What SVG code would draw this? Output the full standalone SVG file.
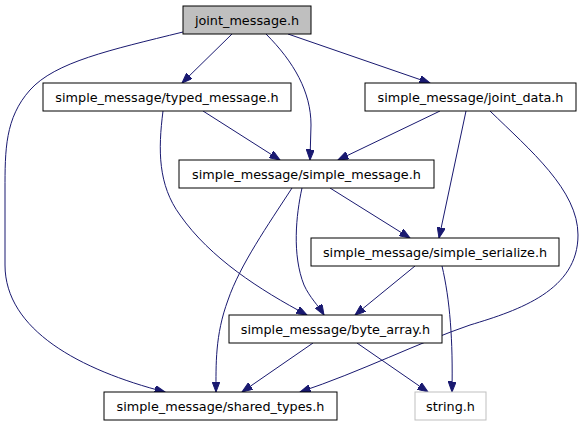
<svg xmlns="http://www.w3.org/2000/svg" width="582" height="427" viewBox="0 0 582 427">
<style>
.box{fill:#ffffff;stroke:#000000;stroke-width:1}
.root{fill:#bfbfbf;stroke:#000000;stroke-width:1}
.sys{fill:#ffffff;stroke:#bfbfbf;stroke-width:1}
.lbl{font-family:"DejaVu Sans","Liberation Sans",sans-serif;font-size:12.8px;fill:#000000;text-anchor:middle}
.edge{fill:none;stroke:#191970;stroke-width:1;marker-end:url(#ah)}
</style>
<defs>
<marker id="ah" markerUnits="userSpaceOnUse" markerWidth="11" markerHeight="8" refX="10.5" refY="4" orient="auto">
<path d="M0,0 L10.5,4 L0,8 z" fill="#191970" stroke="#191970" stroke-width="1"/>
</marker>
</defs>
<rect width="582" height="427" fill="#ffffff"/>
<g id="connectors">
<path class="edge" d="M232,34 L182,83"/>
<path class="edge" d="M266,34 C294,62 311,92 311,125 L310,160"/>
<path class="edge" d="M288,34 L430,83"/>
<path class="edge" d="M183,32 C110,50 55,62 30,90 C5,118 5,150 5,190 L5,265 C5,330 80,370 165,392"/>
<path class="edge" d="M203,111 L280,160"/>
<path class="edge" d="M163,111 C158,150 158,185 180,215 C210,258 260,290 307,315"/>
<path class="edge" d="M440,111 L338,160"/>
<path class="edge" d="M466,111 L439,238"/>
<path class="edge" d="M490,111 C530,150 578,190 578,235 C578,290 520,310 470,325 C420,342 360,372 300,392"/>
<path class="edge" d="M330,188 L410,238"/>
<path class="edge" d="M302,188 C296,215 292,255 304,285 C310,298 318,305 324,315"/>
<path class="edge" d="M292,188 C268,225 240,265 228,300 C215,335 216,365 216,392"/>
<path class="edge" d="M415,266 L355,315"/>
<path class="edge" d="M442,266 C450,300 453,340 452,392"/>
<path class="edge" d="M313,343 L242,392"/>
<path class="edge" d="M357,343 L428,392"/>
</g>
<g id="joint_message"><rect class="root" x="183" y="6" width="128" height="28"/><text class="lbl" x="247" y="24.5">joint_message.h</text></g>
<g id="typed_message"><rect class="box" x="43" y="83" width="248" height="28"/><text class="lbl" x="167" y="101.5">simple_message/typed_message.h</text></g>
<g id="joint_data"><rect class="box" x="365" y="83" width="211" height="28"/><text class="lbl" x="470.5" y="101.5">simple_message/joint_data.h</text></g>
<g id="simple_message"><rect class="box" x="179" y="160" width="255" height="28"/><text class="lbl" x="306.5" y="178.5">simple_message/simple_message.h</text></g>
<g id="simple_serialize"><rect class="box" x="311" y="238" width="248" height="28"/><text class="lbl" x="435" y="256.5">simple_message/simple_serialize.h</text></g>
<g id="byte_array"><rect class="box" x="229" y="315" width="213" height="28"/><text class="lbl" x="335.5" y="333.5">simple_message/byte_array.h</text></g>
<g id="shared_types"><rect class="box" x="104" y="392" width="233" height="28"/><text class="lbl" x="220.5" y="410.5">simple_message/shared_types.h</text></g>
<g id="string_h"><rect class="sys" x="415" y="392" width="71" height="28"/><text class="lbl" x="450.5" y="410.5">string.h</text></g>
</svg>
